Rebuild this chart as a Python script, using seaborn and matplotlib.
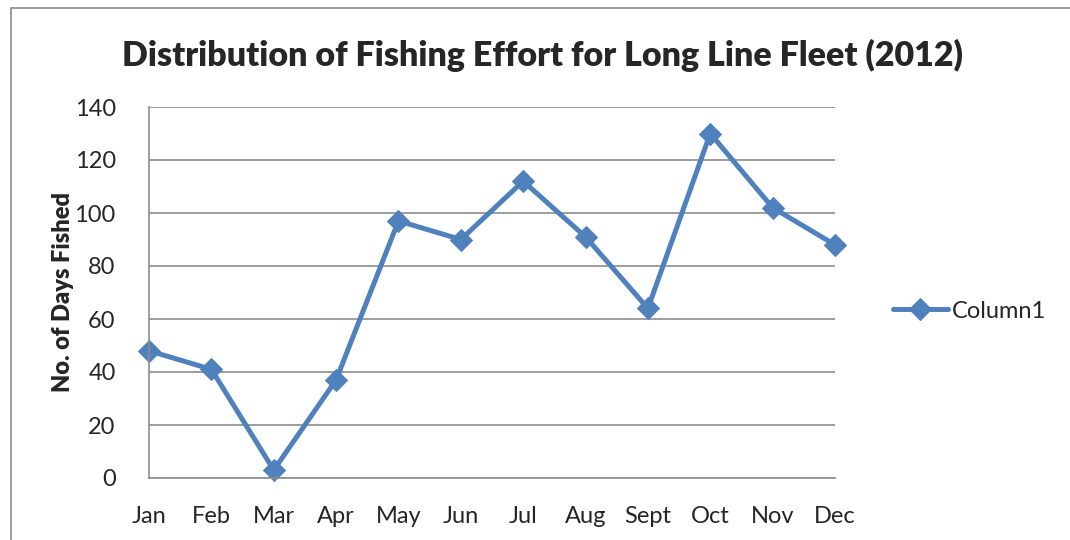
import numpy as np
import pandas as pd
import seaborn as sns
import matplotlib.pyplot as plt
from matplotlib.patches import Rectangle

months = ["Jan", "Feb", "Mar", "Apr", "May", "Jun", "Jul", "Aug", "Sept", "Oct", "Nov", "Dec"]
days_fished = [48, 41, 3, 37, 97, 90, 112, 91, 64, 130, 102, 88]
y_ticks = [0, 20, 40, 60, 80, 100, 120, 140]

df = pd.DataFrame({"month": months, "days": days_fished})

sns.set_style("white")
plt.rcParams['font.family'] = ['Lato', 'DejaVu Sans']

fig = plt.figure(figsize=(10.7, 5.4), dpi=100)
ax = fig.add_axes([149 / 1070, 1 - 478 / 540, (835 - 149) / 1070, (478 - 107) / 540])

# outer chart border (only top and left visible in the reference)
fig.patches.append(Rectangle((11 / 1070, -0.05), 1.1, 1.05 - 8 / 540, transform=fig.transFigure,
                             fill=False, edgecolor="#8c8c8c", linewidth=1.2))

sns.lineplot(data=df, x="month", y="days", ax=ax, color="#4F81BD", linewidth=3.6,
             marker="D", markersize=11, markeredgecolor="#4F81BD", label="Column1",
             sort=False, clip_on=False)

ax.set_xlim(0, len(months) - 1)
ax.set_ylim(0, 140)
ax.set_yticks(y_ticks)
ax.yaxis.grid(True, color="#8c8c8c", linewidth=1.2)
ax.set_axisbelow(True)
for s in ["top", "right"]:
    ax.spines[s].set_visible(False)
for s in ["left", "bottom"]:
    ax.spines[s].set_color("#8c8c8c")
    ax.spines[s].set_linewidth(1.2)
ax.tick_params(axis="both", length=0, labelsize=17)
ax.tick_params(axis="x", pad=20)
ax.tick_params(axis="y", pad=24)
ax.set_xlabel("")
ax.set_ylabel("No. of Days Fished", fontsize=17, fontweight="heavy")
ax.yaxis.set_label_coords(-0.11, 0.5)

fig.text(543 / 1070, 1 - 55 / 540, "Distribution of Fishing Effort for Long Line Fleet (2012)",
         ha="center", va="center", fontsize=24.5, fontweight="heavy")

leg = ax.legend(loc="center left", bbox_to_anchor=(1.085, 0.45), frameon=False, fontsize=17,
                handlelength=2.3, handletextpad=0.2, borderpad=0, borderaxespad=0)

fig.savefig("out.png", dpi=100)
